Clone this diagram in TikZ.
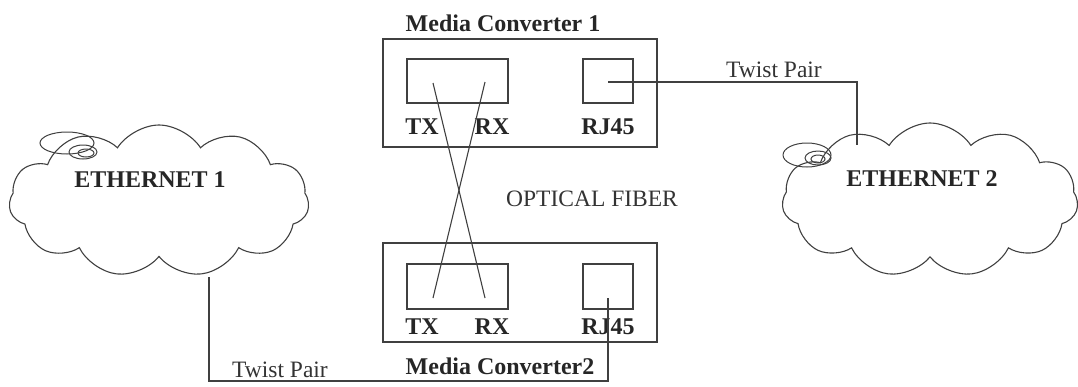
\documentclass[tikz,border=0pt]{standalone}
\usepackage{fontspec}
\setmainfont{Liberation Serif}
\usetikzlibrary{shapes.symbols}
\begin{document}
\begin{tikzpicture}[x=1pt,y=-1pt,
  ln/.style={line width=1.1pt,draw=black!75},
  box/.style={ln,rectangle,inner sep=0pt},
  blab/.style={font=\fontsize{24}{26}\selectfont\bfseries,text=black!85,inner sep=0pt},
  rlab/.style={font=\fontsize{23.5}{26}\selectfont,text=black!80,inner sep=0pt},
  cloudshape/.style={ln,cloud,cloud puffs=11,cloud puff arc=115,aspect=1.95,inner sep=0pt},
  curl/.style={line width=1pt,draw=black!75}]
\useasboundingbox (0,0) rectangle (1078,386);
% media converter 1
\node[box,minimum width=274pt,minimum height=108pt] (mc1) at (520,93) {};
\node[box,minimum width=101pt,minimum height=44pt] (trx1) at (457.5,81) {};
\node[box,minimum width=50pt,minimum height=44pt] (rj1) at (608,81) {};
\node[blab] (mc1t) at (503,23) {Media Converter 1};
\node[blab] (tx1) at (422,127) {TX};
\node[blab] (rx1) at (492,127) {RX};
\node[blab] (rj1t) at (608,127) {RJ45};
% media converter 2
\node[box,minimum width=274pt,minimum height=99pt] (mc2) at (520,292.5) {};
\node[box,minimum width=101pt,minimum height=45pt] (trx2) at (457.5,286.5) {};
\node[box,minimum width=50pt,minimum height=45pt] (rj2) at (608,286.5) {};
\node[blab] (mc2t) at (500,366) {Media Converter2};
\node[blab] (tx2) at (422,327) {TX};
\node[blab] (rx2) at (492,327) {RX};
\node[blab] (rj2t) at (608,327) {RJ45};
% fibre
\coordinate (f1a) at (433,83);
\coordinate (f1b) at (485,82);
\coordinate (f2a) at (433,298);
\coordinate (f2b) at (485,298);
\draw[ln] (f1a) -- (f2b);
\draw[ln] (f1b) -- (f2a);
\node[rlab] (of) at (592,199) {OPTICAL FIBER};
% clouds
\node[cloudshape,minimum width=300pt,minimum height=152pt] (e1) at (159,201) {};
\node[blab] (e1t) at (150,180) {ETHERNET 1};
\node[cloudshape,minimum width=296pt,minimum height=154pt] (e2) at (930,200) {};
\node[blab] (e2t) at (922,179) {ETHERNET 2};
% curls
\draw[curl] (67,143) ellipse (27 and 11);
\draw[curl] (83,152) ellipse (14 and 7);
\draw[curl] (86,153) ellipse (8 and 4);
\draw[curl] (807,155) ellipse (24 and 12);
\draw[curl] (818,158) ellipse (13 and 7);
\draw[curl] (818,159) ellipse (7 and 4);
% twist pairs
\coordinate (rjin1) at (608,82);
\coordinate (tp1c) at (857,82);
\coordinate (e2top) at (857,145);
\draw[ln] (rjin1) -- (tp1c) -- (e2top);
\node[rlab] (tp1) at (774,70) {Twist Pair};
\coordinate (rjin2) at (608,298);
\coordinate (tp2a) at (608,381);
\coordinate (tp2b) at (209,381);
\coordinate (e1bot) at (209,277);
\draw[ln] (rjin2) -- (tp2a) -- (tp2b) -- (e1bot);
\node[rlab] (tp2) at (280,370) {Twist Pair};
\end{tikzpicture}
\end{document}
